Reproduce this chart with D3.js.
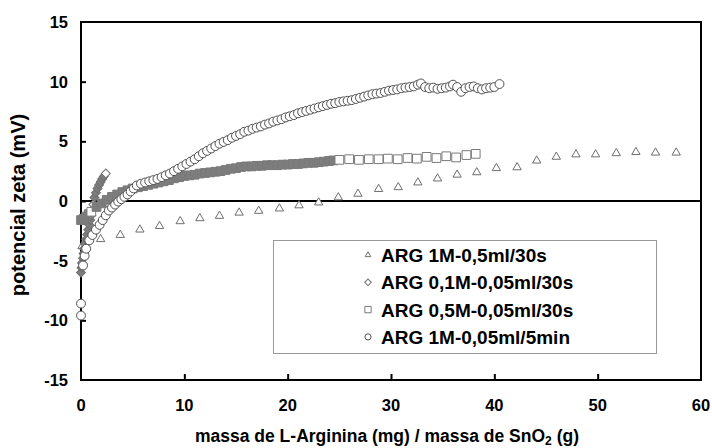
<!DOCTYPE html>
<html>
<head>
<meta charset="utf-8">
<script src="https://cdn.jsdelivr.net/npm/d3@7"></script>
<style>
  body { margin: 0; background: #fff; }
  text { font-family: "Liberation Sans", Arial, sans-serif; font-weight: bold; fill: #000; }
</style>
</head>
<body>
<svg id="chart" width="712" height="448"></svg>
<script>
// ARG 1M-0,5ml/30s
var triX = [0.1, 1.9, 3.8, 5.7, 7.6, 9.6, 11.5, 13.4, 15.3, 17.2, 19.2, 21.1, 23.0, 24.9, 26.8,
  28.8, 30.7, 32.6, 34.5, 36.4, 38.3, 40.2, 42.2, 44.1, 46.0, 47.9, 49.8, 51.8, 53.7, 55.6, 57.6];
var triY = [-3.8, -3.2, -2.85, -2.4, -2.1, -1.7, -1.45, -1.25, -0.98, -0.83, -0.63, -0.37, -0.13, 0.3, 0.6,
  1.0, 1.15, 1.55, 1.88, 2.2, 2.4, 2.75, 2.82, 3.38, 3.7, 3.9, 3.9, 4.0, 4.1, 4.05, 4.05];

// ARG 0,1M-0,05ml/30s
var diaX = [0.0, 0.05, 0.1, 0.2, 0.25, 0.3, 0.4, 0.5, 0.6, 0.7, 0.8, 0.9, 1.0, 1.1, 1.2, 1.3,
  1.45, 1.6, 1.75, 1.9, 2.05, 2.2, 2.4];
var diaY = [-6.0, -5.6, -5.2, -4.8, -4.4, -4.0, -3.6, -3.2, -2.8, -2.4, -2.0, -1.6, -1.2, -0.8, -0.3, 0.3,
  0.7, 1.05, 1.35, 1.6, 1.85, 2.05, 2.3];

// ARG 0,5M-0,05ml/30s
var sqX = [0.0, 0.25, 0.5, 0.75, 1.0, 1.5, 2.0, 2.5, 3.0, 3.5, 4.0, 4.5, 5.0, 5.5, 6.0, 6.5, 7.0, 7.5,
  8.0, 8.5, 9.0, 9.5, 10.0, 10.5, 11.0, 11.5, 12.0, 12.5, 13.0, 13.5, 14.0, 14.5, 15.0, 15.5, 16.0,
  16.5, 17.0, 17.5, 18.0, 18.5, 19.0, 19.5, 20.0, 20.5, 21.0, 21.5, 22.0, 22.5, 23.0, 23.5, 24.0, 24.4,
  25.0, 25.95, 26.9, 27.85, 28.8, 29.7, 30.65, 31.6, 32.5, 33.45, 34.4, 35.35, 36.3, 37.3, 38.2];
var sqY = [-1.6, -1.5, -1.3, -1.1, -0.9, -0.5, -0.2, 0.1, 0.35, 0.55, 0.75, 0.9, 1.05, 1.15, 1.25, 1.35, 1.45, 1.55,
  1.65, 1.75, 1.9, 2.0, 2.1, 2.15, 2.2, 2.3, 2.35, 2.4, 2.45, 2.5, 2.6, 2.7, 2.75, 2.85, 2.9,
  2.9, 2.95, 2.95, 3.0, 3.0, 3.0, 3.05, 3.05, 3.1, 3.1, 3.15, 3.2, 3.2, 3.25, 3.3, 3.35, 3.4,
  3.45, 3.5, 3.45, 3.5, 3.5, 3.55, 3.5, 3.6, 3.55, 3.7, 3.6, 3.75, 3.65, 3.85, 3.95];

// ARG 1M-0,05ml/5min
var circX = [0.0, 0.0, 0.2, 0.35, 0.5, 0.8, 1.1, 1.45, 1.8, 2.1, 2.4, 2.7, 3.0, 3.3, 3.6, 3.9, 4.2, 4.5,
  4.8, 5.1, 5.4, 5.8, 6.2, 6.6, 7.0, 7.4, 7.8, 8.2, 8.6, 9.0, 9.4, 9.8, 10.2, 10.6, 11.0, 11.4, 11.8,
  12.2, 12.6, 13.0, 13.4, 13.8, 14.2, 14.6, 15.0, 15.4, 15.8, 16.2, 16.6, 17.0, 17.4, 17.8, 18.2,
  18.6, 19.0, 19.4, 19.8, 20.2, 20.6, 21.0, 21.4, 21.8, 22.2, 22.6, 23.0, 23.4, 23.8, 24.2, 24.6,
  25.0, 25.4, 25.8, 26.2, 26.6, 27.0, 27.4, 27.8, 28.2, 28.6, 29.0, 29.4, 29.8, 30.2, 30.6, 31.0,
  31.4, 31.8, 32.2, 32.6, 32.9, 33.3, 33.7, 34.1, 34.5, 34.9, 35.3, 35.7, 36.0, 36.4, 36.8, 37.2,
  37.6, 38.0, 38.4, 38.8, 39.2, 39.6, 40.0, 40.5];
var circY = [-9.6, -8.6, -5.4, -4.6, -4.0, -3.3, -2.85, -2.4, -2.0, -1.6, -1.2, -0.8, -0.55, -0.3, -0.05, 0.15, 0.35, 0.55,
  0.8, 1.05, 1.3, 1.45, 1.55, 1.65, 1.75, 1.85, 2.0, 2.15, 2.3, 2.5, 2.7, 2.9, 3.1, 3.3, 3.5, 3.75, 4.0,
  4.2, 4.4, 4.6, 4.8, 4.95, 5.1, 5.3, 5.45, 5.6, 5.8, 5.9, 6.05, 6.15, 6.25, 6.4, 6.5,
  6.65, 6.75, 6.85, 7.0, 7.1, 7.2, 7.35, 7.45, 7.55, 7.65, 7.75, 7.85, 7.95, 8.05, 8.15, 8.2,
  8.3, 8.35, 8.4, 8.45, 8.55, 8.65, 8.75, 8.85, 8.95, 9.0, 9.05, 9.15, 9.25, 9.3, 9.35, 9.45,
  9.5, 9.55, 9.6, 9.75, 9.85, 9.55, 9.45, 9.5, 9.4, 9.45, 9.5, 9.6, 9.75, 9.55, 9.15, 9.45,
  9.55, 9.6, 9.45, 9.35, 9.45, 9.5, 9.55, 9.8];

var seriesNames = ["ARG 1M-0,5ml/30s", "ARG 0,1M-0,05ml/30s", "ARG 0,5M-0,05ml/30s", "ARG 1M-0,05ml/5min"];
var xTicks = [0, 10, 20, 30, 40, 50, 60];
var yTicks = [-15, -10, -5, 0, 5, 10, 15];

var svg = d3.select("#chart");

var x = d3.scaleLinear().domain([0, 60]).range([81, 701]);
var y = d3.scaleLinear().domain([-15, 15]).range([380, 22]);

// eixos (ticks para dentro)
svg.append("g")
  .attr("transform", "translate(0," + y(-15) + ")")
  .call(d3.axisBottom(x).tickValues(xTicks.slice(1, -1)).tickSize(-6).tickFormat(""))
  .call(g => g.select(".domain").remove())
  .selectAll("line").attr("stroke", "#000").attr("stroke-width", 2);

svg.append("g")
  .attr("transform", "translate(" + x(0) + ",0)")
  .call(d3.axisLeft(y).tickValues(yTicks.slice(1, -1)).tickSize(-5).tickFormat(""))
  .call(g => g.select(".domain").remove())
  .selectAll("line").attr("stroke", "#000").attr("stroke-width", 2);

svg.append("rect")
  .attr("x", x(0)).attr("y", y(15))
  .attr("width", x(60) - x(0)).attr("height", y(-15) - y(15))
  .attr("fill", "none").attr("stroke", "#000").attr("stroke-width", 2);

svg.append("line")
  .attr("x1", x(0)).attr("x2", x(60))
  .attr("y1", y(0)).attr("y2", y(0))
  .attr("stroke", "#000").attr("stroke-width", 2);

// rótulos dos ticks
svg.append("g").selectAll("text")
  .data(xTicks).enter().append("text")
  .attr("x", d => x(d)).attr("y", 411)
  .attr("text-anchor", "middle").style("font-size", "16.5px")
  .text(d => d);

svg.append("g").selectAll("text")
  .data(yTicks).enter().append("text")
  .attr("x", 68).attr("y", d => y(d) + 6)
  .attr("text-anchor", "end").style("font-size", "16.5px")
  .text(d => d);

// títulos
var xt = svg.append("text")
  .attr("x", 387).attr("y", 442)
  .attr("text-anchor", "middle").style("font-size", "17.5px");
xt.append("tspan").text("massa de L-Arginina (mg) / massa de SnO");
xt.append("tspan").attr("dy", 3).style("font-size", "12px").text("2");
xt.append("tspan").attr("dy", -3).text(" (g)");

svg.append("text")
  .attr("transform", "translate(25,205) rotate(-90)")
  .attr("text-anchor", "middle").style("font-size", "20px")
  .text("potencial zeta (mV)");

// séries
function pts(xs, ys) {
  return xs.map((v, i) => ({ x: v, y: ys[i] }));
}

// pontos muito juntos aparecem cheios (sobreposição)
function dense(d, i, arr) {
  var n = arr[i + 1];
  if (!n) return false;
  return Math.hypot(x(n.x) - x(d.x), y(n.y) - y(d.y)) < 7;
}

var series = [
  { data: pts(triX, triY), type: d3.symbolTriangle, size: 30, rot: 0, stroke: "#6e6e6e", fillDense: false },
  { data: pts(diaX, diaY), type: d3.symbolSquare, size: 40, rot: 45, stroke: "#707070", fillDense: true },
  { data: pts(sqX, sqY), type: d3.symbolSquare, size: 76, rot: 0, stroke: "#7a7a7a", fillDense: true },
  { data: pts(circX, circY), type: d3.symbolCircle, size: 62, rot: 0, stroke: "#505050", fillDense: false }
];

series.forEach(s => {
  svg.append("g").selectAll("path")
    .data(s.data).enter().append("path")
    .attr("d", d3.symbol().type(s.type).size(s.size))
    .attr("transform", d => "translate(" + x(d.x) + "," + y(d.y) + ") rotate(" + s.rot + ")")
    .attr("fill", (d, i) => s.fillDense && dense(d, i, s.data) ? "#7d7d7d" : "#fff")
    .attr("stroke", s.stroke)
    .attr("stroke-width", 1);
});

// legenda
svg.append("rect")
  .attr("x", 273.5).attr("y", 240.5).attr("width", 383).attr("height", 113)
  .attr("fill", "#fff").attr("stroke", "#999").attr("stroke-width", 1);

var lg = svg.append("g").selectAll("g")
  .data(series).enter().append("g")
  .attr("transform", (d, i) => "translate(368," + (255 + i * 27.3) + ")");

lg.append("path")
  .attr("d", (d, i) => d3.symbol().type(d.type).size([14, 22, 40, 30][i])())
  .attr("transform", d => "rotate(" + d.rot + ")")
  .attr("fill", "#fff").attr("stroke", d => d.stroke).attr("stroke-width", 1);

lg.append("text")
  .attr("x", 13).attr("y", 7)
  .style("font-size", "19px")
  .text((d, i) => seriesNames[i]);
</script>
</body>
</html>
